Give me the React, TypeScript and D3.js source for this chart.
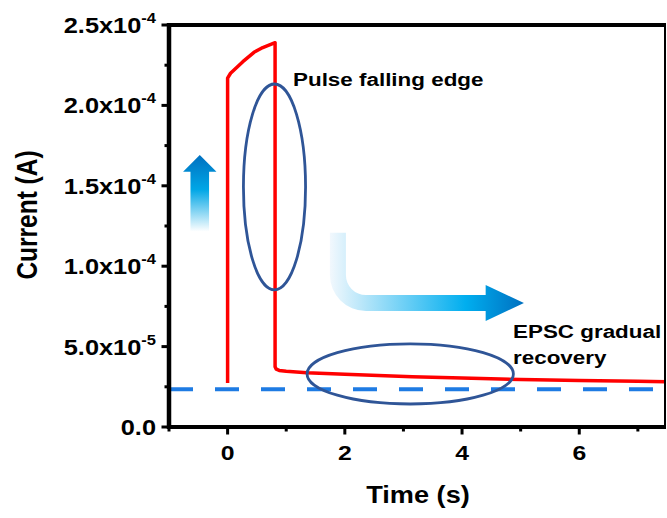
import React from "react";
import * as d3 from "d3";

// ---- data ----
const traceTime = [0, 0, 0.05, 0.26, 0.45, 0.6, 0.81, 0.81, 0.83, 0.88, 1.0, 1.35, 2, 3.15, 4, 5, 6, 7, 7.48];
const traceCurrent = [2.74e-5, 2.17e-4, 2.2e-4, 2.272e-4, 2.33e-4, 2.36e-4, 2.39e-4, 3.75e-5, 3.6e-5, 3.52e-5, 3.47e-5, 3.38e-5, 3.28e-5, 3.12e-5, 3.04e-5, 2.96e-5, 2.89e-5, 2.84e-5, 2.82e-5];
const baselineCurrent = 2.34e-5;

const xTicks = [0, 2, 4, 6];
const xMinorTicks = [-1, 1, 3, 5, 7];
const yTicks = [0, 5e-5, 1e-4, 1.5e-4, 2e-4, 2.5e-4];
const yTickMantissa = ["0.0", "5.0", "1.0", "1.5", "2.0", "2.5"];
const yTickExponent = ["", "-5", "-4", "-4", "-4", "-4"];
const yMinorTicks = [2.5e-5, 7.5e-5, 1.25e-4, 1.75e-4, 2.25e-4];

// annotations in data units: [centerT, centerI, radiusT, radiusI]
const pulseEllipse = [0.8, 1.493e-4, 0.53, 6.4e-5];
const recoveryEllipse = [3.116, 3.3e-5, 1.76, 1.87e-5];
// up arrow: [t, bottomI, headBaseI, tipI]
const upArrow = [-0.475, 1.215e-4, 1.588e-4, 1.692e-4];
// bent arrow: [t vertical, top I, horizontal I, head base t, tip t]
const bentArrow = [1.882, 1.208e-4, 7.71e-5, 4.403, 5.056];

const W = 667;
const H = 518;
const STRETCH = 1.18;
const FONT = "Liberation Sans, Arial, sans-serif";

export default function App() {
  const x = d3.scaleLinear().domain([-1, 7.48]).range([169, 666]);
  const y = d3.scaleLinear().domain([0, 2.5e-4]).range([427, 25]);

  const pts = traceTime.map((t, i) => [t, traceCurrent[i]] as [number, number]);
  const line = d3
    .line<[number, number]>()
    .x((d) => x(d[0]))
    .y((d) => y(d[1]))
    .curve(d3.curveLinear);

  // up arrow path
  const ux = x(upArrow[0]);
  const uBottom = y(upArrow[1]);
  const uBase = y(upArrow[2]);
  const uTip = y(upArrow[3]);
  const sw = 9.3;
  const hw = 16.7;
  const upPath = `M${ux - sw},${uBottom} L${ux - sw},${uBase} L${ux - hw},${uBase} L${ux},${uTip} L${ux + hw},${uBase} L${ux + sw},${uBase} L${ux + sw},${uBottom} Z`;

  // bent arrow path
  const bx = x(bentArrow[0]);
  const bTop = y(bentArrow[1]);
  const bY = y(bentArrow[2]);
  const bHead = x(bentArrow[3]);
  const bTip = x(bentArrow[4]);
  const hs = 8; // half shaft
  const hh = 18; // half head
  const rOut = 36;
  const rIn = rOut - 2 * hs;
  const bentPath = [
    `M${bx - hs},${bTop}`,
    `L${bx - hs},${bY + hs - rOut}`,
    `A${rOut},${rOut} 0 0 0 ${bx - hs + rOut},${bY + hs}`,
    `L${bHead},${bY + hs}`,
    `L${bHead},${bY + hh}`,
    `L${bTip},${bY}`,
    `L${bHead},${bY - hh}`,
    `L${bHead},${bY - hs}`,
    `L${bx + hs + rIn},${bY - hs}`,
    `A${rIn},${rIn} 0 0 1 ${bx + hs},${bY - hs - rIn}`,
    `L${bx + hs},${bTop}`,
    "Z",
  ].join(" ");

  const x0 = x.range()[0];
  const x1 = x.range()[1];
  const yB = y.range()[0];
  const yT = y.range()[1];

  const stretchText = (tx: number, ty: number, content: React.ReactNode, props: any = {}) => (
    <g transform={`translate(${tx},${ty}) scale(${STRETCH},1)`}>
      <text x={0} y={0} {...props}>
        {content}
      </text>
    </g>
  );

  return (
    <svg
      width={W}
      height={H}
      style={{ position: "absolute", left: 0, top: 0, background: "#fff" }}
      fontFamily={FONT}
      fontWeight="bold"
    >
      <defs>
        <linearGradient id="upGrad" gradientUnits="userSpaceOnUse" x1={0} y1={uTip} x2={0} y2={uBottom}>
          <stop offset="0" stopColor="#0070C0" />
          <stop offset="0.45" stopColor="#00A6E6" />
          <stop offset="1" stopColor="#FFFFFF" />
        </linearGradient>
        <linearGradient id="bentGrad" gradientUnits="userSpaceOnUse" x1={bx - hs} y1={0} x2={bTip} y2={0}>
          <stop offset="0" stopColor="#F2F8FD" />
          <stop offset="0.7" stopColor="#00AEEF" />
          <stop offset="1" stopColor="#0070C0" />
        </linearGradient>
      </defs>

      {/* baseline dashed */}
      <line
        x1={x0}
        x2={x1}
        y1={y(baselineCurrent)}
        y2={y(baselineCurrent)}
        stroke="#1E7BE3"
        strokeWidth={4}
        strokeDasharray="24 22"
      />

      {/* trace */}
      <path d={line(pts) || ""} fill="none" stroke="#FF0000" strokeWidth={3.5} strokeLinejoin="round" />

      {/* ellipses */}
      <ellipse
        cx={x(pulseEllipse[0])}
        cy={y(pulseEllipse[1])}
        rx={x(pulseEllipse[0] + pulseEllipse[2]) - x(pulseEllipse[0])}
        ry={y(0) - y(pulseEllipse[3])}
        fill="none"
        stroke="#2F5597"
        strokeWidth={2.8}
      />
      <ellipse
        cx={x(recoveryEllipse[0])}
        cy={y(recoveryEllipse[1])}
        rx={x(recoveryEllipse[0] + recoveryEllipse[2]) - x(recoveryEllipse[0])}
        ry={y(0) - y(recoveryEllipse[3])}
        fill="none"
        stroke="#2F5597"
        strokeWidth={2.8}
      />

      {/* arrows */}
      <path d={upPath} fill="url(#upGrad)" />
      <path d={bentPath} fill="url(#bentGrad)" />

      {/* frame */}
      <line x1={x0 - 2} x2={x1} y1={yT} y2={yT} stroke="#000" strokeWidth={4} />
      <line x1={x1 - 1} x2={x1 - 1} y1={yT} y2={yB} stroke="#000" strokeWidth={2} />
      <line x1={x0} x2={x0} y1={yT - 2} y2={yB + 2} stroke="#000" strokeWidth={4.5} />
      <line x1={x0 - 2} x2={x1} y1={yB} y2={yB} stroke="#000" strokeWidth={4} />

      {/* x ticks */}
      {xTicks.map((t) => (
        <line key={"xt" + t} x1={x(t)} x2={x(t)} y1={yB} y2={yB + 7.5} stroke="#000" strokeWidth={3} />
      ))}
      {xMinorTicks.map((t) => (
        <line key={"xm" + t} x1={x(t)} x2={x(t)} y1={yB} y2={yB + 4.5} stroke="#000" strokeWidth={3} />
      ))}
      {xTicks.map((t) =>
        <g key={"xl" + t}>{stretchText(x(t), 460, String(t), { fontSize: 21, textAnchor: "middle" })}</g>
      )}

      {/* y ticks */}
      {yTicks.map((v) => (
        <line key={"yt" + v} x1={x0 - 7.5} x2={x0} y1={y(v)} y2={y(v)} stroke="#000" strokeWidth={3} />
      ))}
      {yMinorTicks.map((v) => (
        <line key={"ym" + v} x1={x0 - 4.5} x2={x0} y1={y(v)} y2={y(v)} stroke="#000" strokeWidth={3} />
      ))}
      {yTicks.map((v, i) => (
        <g key={"yl" + v}>
          {yTickExponent[i] === ""
            ? stretchText(156, y(v) + 8, yTickMantissa[i], { fontSize: 21.5, textAnchor: "end" })
            : stretchText(
                156,
                y(v) + 8,
                <>
                  {yTickMantissa[i] + "x10"}
                  <tspan fontSize={14} dy={-10}>
                    {yTickExponent[i]}
                  </tspan>
                </>,
                { fontSize: 21.5, textAnchor: "end" }
              )}
        </g>
      ))}

      {/* axis titles */}
      {stretchText(418, 503, "Time (s)", { fontSize: 23, textAnchor: "middle" })}
      <g transform={`translate(27,215) scale(${STRETCH},1) rotate(-90)`}>
        <text x={0} y={0} fontSize={24.5} textAnchor="middle" dominantBaseline="central">
          Current (A)
        </text>
      </g>

      {/* annotation labels */}
      {stretchText(293, 86, "Pulse falling edge", { fontSize: 19 })}
      {stretchText(513, 338, "EPSC gradual", { fontSize: 19 })}
      {stretchText(513, 364, "recovery", { fontSize: 19 })}
    </svg>
  );
}
